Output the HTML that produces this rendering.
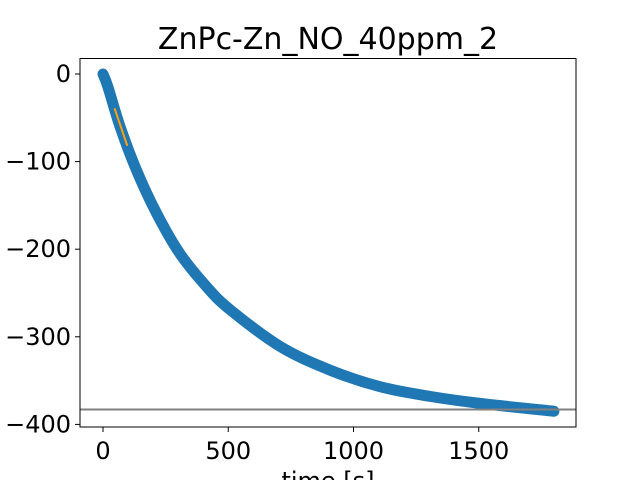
<!DOCTYPE html>
<html><head><meta charset="utf-8"><style>
body{margin:0;background:#fff;}
svg{display:block;font-family:"DejaVu Sans","Liberation Sans",sans-serif;}
</style></head><body>
<svg id="chart" width="640" height="480" viewBox="0 0 640 480">
<rect x="0" y="0" width="640" height="480" fill="#fff"/>
<text x="328" y="49" font-size="30" text-anchor="middle">ZnPc-Zn_NO_40ppm_2</text>
<g id="plot"></g>
<rect x="80" y="58.5" width="496" height="368.5" fill="none" stroke="#000" stroke-width="1"/>
<g id="xt"></g>
<g id="yt"></g>
<text x="328" y="489" font-size="24" text-anchor="middle">time [s]</text>
</svg>
<script>
const times=[0,20,68,134,214,307,414,507,707,906,1106,1305,1505,1800];
const values=[0,-15,-60,-110,-159,-205,-243,-269,-311,-338,-357,-368,-376,-385];
const fitT=[46,97];
const fitV=[-39,-82];
const baseline=[-383];
const xTicks=[0,500,1000,1500];
const yTicks=[0,-100,-200,-300,-400];
const NS="http://www.w3.org/2000/svg";
function X(t){return 103+t*0.2505;}
function Y(v){return 74-v*0.876;}
const plot=document.getElementById('plot');
function mk(tag,attrs,parent){const e=document.createElementNS(NS,tag);for(const k in attrs)e.setAttribute(k,attrs[k]);parent.appendChild(e);return e;}
const pts=times.map((t,i)=>[X(t),Y(values[i])]);
let d='M'+pts[0][0].toFixed(2)+','+pts[0][1].toFixed(2);
for(let i=0;i<pts.length-1;i++){
  const p0=pts[Math.max(0,i-1)],p1=pts[i],p2=pts[i+1],p3=pts[Math.min(pts.length-1,i+2)];
  const c1=[p1[0]+(p2[0]-p0[0])/6,p1[1]+(p2[1]-p0[1])/6];
  const c2=[p2[0]-(p3[0]-p1[0])/6,p2[1]-(p3[1]-p1[1])/6];
  d+='C'+c1[0].toFixed(2)+','+c1[1].toFixed(2)+' '+c2[0].toFixed(2)+','+c2[1].toFixed(2)+' '+p2[0].toFixed(2)+','+p2[1].toFixed(2);
}
const p=mk('path',{d:d,fill:'none',stroke:'#1f77b4','stroke-width':11,'stroke-linecap':'round','stroke-linejoin':'round'},plot);


const f=mk('line',{x1:X(fitT[0]),y1:Y(fitV[0]),x2:X(fitT[1]),y2:Y(fitV[1]),stroke:'#ff9f0e','stroke-width':2},plot);


const b=mk('line',{x1:80,x2:576,y1:Y(baseline[0]),y2:Y(baseline[0]),stroke:'#808080','stroke-width':2},plot);


const xt=document.getElementById('xt');
xTicks.forEach(t=>{
  const l=mk('line',{x1:X(t),x2:X(t),y1:427,y2:432,stroke:'#000'},xt);
  
  
  const tx=mk('text',{x:X(t),y:459,'font-size':24,'text-anchor':'middle'},xt);
  tx.textContent=String(t);
  
  
});
const yt=document.getElementById('yt');
yTicks.forEach(v=>{
  const l=mk('line',{x1:75,x2:80,y1:Y(v),y2:Y(v),stroke:'#000'},yt);
  
  
  const tx=mk('text',{x:71,y:Y(v)+8,'font-size':24,'text-anchor':'end'},yt);
  tx.textContent=v<0?'\u2212'+(-v):String(v);
  
  
});
</script>
</body></html>
